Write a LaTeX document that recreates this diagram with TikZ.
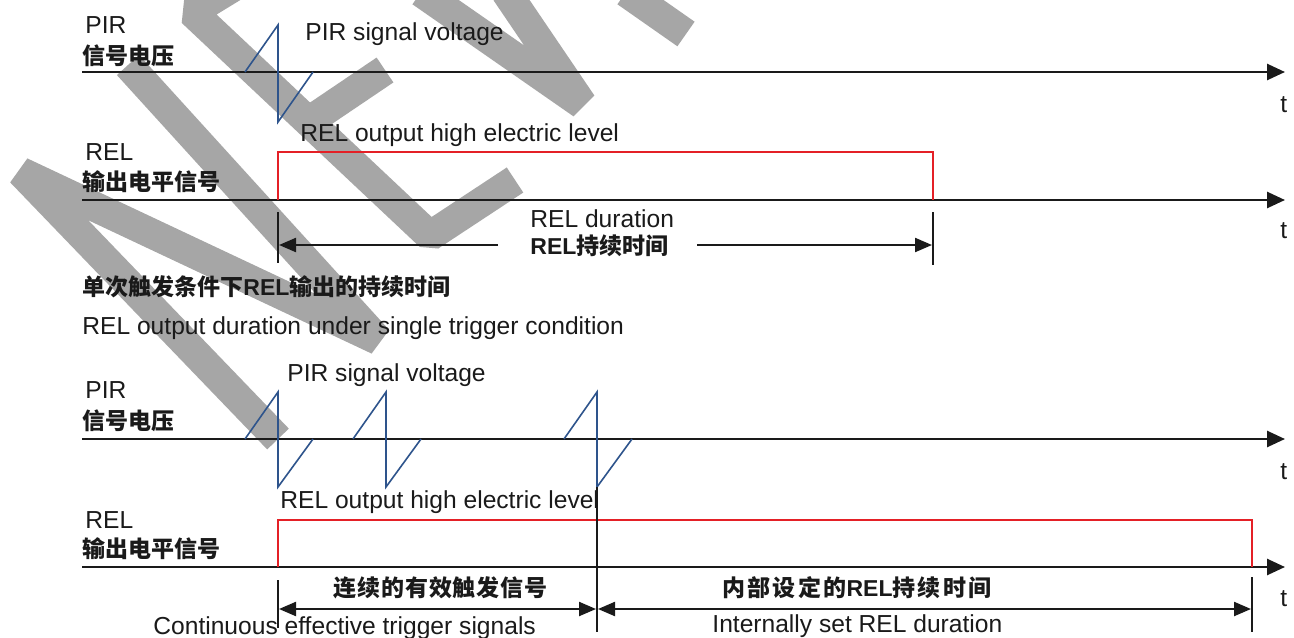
\documentclass[tikz,border=0pt]{standalone}
\usepackage{fontspec}
\setmainfont{Liberation Sans}
\newfontfamily\cjk{Noto Sans CJK SC}
\usetikzlibrary{arrows.meta}
\definecolor{wmgray}{RGB}{166,166,166}
\definecolor{sigblue}{RGB}{46,84,140}
\definecolor{relred}{RGB}{228,32,38}
\definecolor{ink}{RGB}{26,26,26}
\newcommand\relb{{\rmfamily\bfseries REL}}
\begin{document}
\begin{tikzpicture}[x=0.5pt,y=-0.5pt,
  axisline/.style={draw=ink,line width=1.3pt,-{Triangle[length=9pt,width=8pt]}},
  sig/.style={draw=sigblue,line width=0.8pt,line join=miter},
  relsig/.style={draw=relred,line width=1pt},
  tickline/.style={draw=ink,line width=1.2pt},
  dimarrow/.style={draw=ink,line width=1.1pt,-{Triangle[length=8.5pt,width=7pt]}},
  dimboth/.style={draw=ink,line width=1.1pt,{Triangle[length=8.5pt,width=7pt]}-{Triangle[length=8.5pt,width=7pt]}},
  lbl/.style={anchor=base west,inner sep=0pt,text=ink,font=\fontsize{12.3}{14}\selectfont},
  zh/.style={anchor=base west,inner sep=0pt,text=ink,font=\cjk\bfseries\fontsize{11.5}{13}\selectfont},
  wm/.style={draw=wmgray,line width=15pt,line join=bevel,line cap=butt}]
\useasboundingbox[fill=white] (0,0) rectangle (1294,637);

% ---- watermark ----
\draw[wm] (278,439) -- (21,172) -- (378,340) -- (128,65);
\draw[wm] (277,-40) -- (192,12) -- (430,236) -- (515,180);
\draw[wm] (308,122) -- (385,70);
\draw[wm] (421,-8) -- (582,104) -- (506,-8);
\draw[wm] (626,-8) -- (686,34);

% ================= top diagram =================
\coordinate (pa0) at (82,72);  \coordinate (pa1) at (1285,72);
\coordinate (ra0) at (82,200); \coordinate (ra1) at (1285,200);
\draw[axisline] (pa0) -- (pa1);
\draw[axisline] (ra0) -- (ra1);
\node[lbl] (t1) at (1280,112) {t};
\node[lbl] (t2) at (1280,238) {t};

\node[lbl] (pir1) at (85,33.5) {PIR};
\node[zh] (pirzh1) at (82,64) {信号电压};
\node[lbl] (pirv1) at (305,40.5) {PIR signal voltage};
\draw[sig] (245,72) -- (278,25) -- (278,122) -- (313,72);

\node[lbl] (relhi1) at (300,141.5) {REL output high electric level};
\node[lbl] (rel1) at (85,160.5) {REL};
\node[zh] (relzh1) at (82,190) {输出电平信号};
\draw[relsig] (278,200) -- (278,152) -- (933,152) -- (933,200);

\coordinate (m1a) at (278,212); \coordinate (m1b) at (278,263);
\coordinate (m2a) at (933,212); \coordinate (m2b) at (933,265);
\draw[tickline] (m1a) -- (m1b);
\draw[tickline] (m2a) -- (m2b);
\coordinate (d1s) at (498,245); \coordinate (d1e) at (279,245);
\coordinate (d2s) at (697,245); \coordinate (d2e) at (932,245);
\draw[dimarrow] (d1s) -- (d1e);
\draw[dimarrow] (d2s) -- (d2e);
\node[lbl] (reldur) at (530,227.5) {REL duration};
\node[zh] (reldurzh) at (530,254) {\relb 持续时间};

\node[zh] (singlezh) at (82,295) {单次触发条件下\relb 输出的持续时间};
\node[lbl] (single) at (82,334.5) {REL output duration under single trigger condition};

% ================= bottom diagram =================
\coordinate (pb0) at (82,439);  \coordinate (pb1) at (1285,439);
\coordinate (rb0) at (82,567);  \coordinate (rb1) at (1285,567);
\draw[axisline] (pb0) -- (pb1);
\draw[axisline] (rb0) -- (rb1);
\node[lbl] (t3) at (1280,479) {t};
\node[lbl] (t4) at (1280,606) {t};

\node[lbl] (pirv2) at (287,381.5) {PIR signal voltage};
\node[lbl] (pir2) at (85,398.5) {PIR};
\node[zh] (pirzh2) at (82,429) {信号电压};
\foreach \x in {245,353,564}{
  \draw[sig] (\x,439) -- ++(33,-47) -- ++(0,95) -- ++(35,-48);
}

\node[lbl] (relhi2) at (280,508.5) {REL output high electric level};
\node[lbl] (rel2) at (85,528.5) {REL};
\node[zh] (relzh2) at (82,557) {输出电平信号};
\draw[relsig] (278,567) -- (278,520) -- (1252,520) -- (1252,567);

\coordinate (n1a) at (278,580);  \coordinate (n1b) at (278,628);
\coordinate (n2a) at (597,487);  \coordinate (n2b) at (597,632);
\coordinate (n3a) at (1252,577); \coordinate (n3b) at (1252,632);
\draw[tickline] (n1a) -- (n1b);
\draw[ink,line width=0.8pt] (n2a) -- (n2b);
\draw[tickline] (n3a) -- (n3b);
\coordinate (e1s) at (279,609); \coordinate (e1e) at (596,609);
\coordinate (e2s) at (598,609); \coordinate (e2e) at (1251,609);
\draw[dimboth] (e1s) -- (e1e);
\draw[dimboth] (e2s) -- (e2e);

\node[zh] (contzh) at (333,596) {\addfontfeature{LetterSpace=4}连续的有效触发信号};
\node[zh] (intzh) at (722,596) {\addfontfeature{LetterSpace=10}内部设定的\relb 持续时间};
\node[lbl] (cont) at (153,634.5) {Continuous effective trigger signals};
\node[lbl] (intl) at (712,632.5) {Internally set REL duration};
\end{tikzpicture}
\end{document}
